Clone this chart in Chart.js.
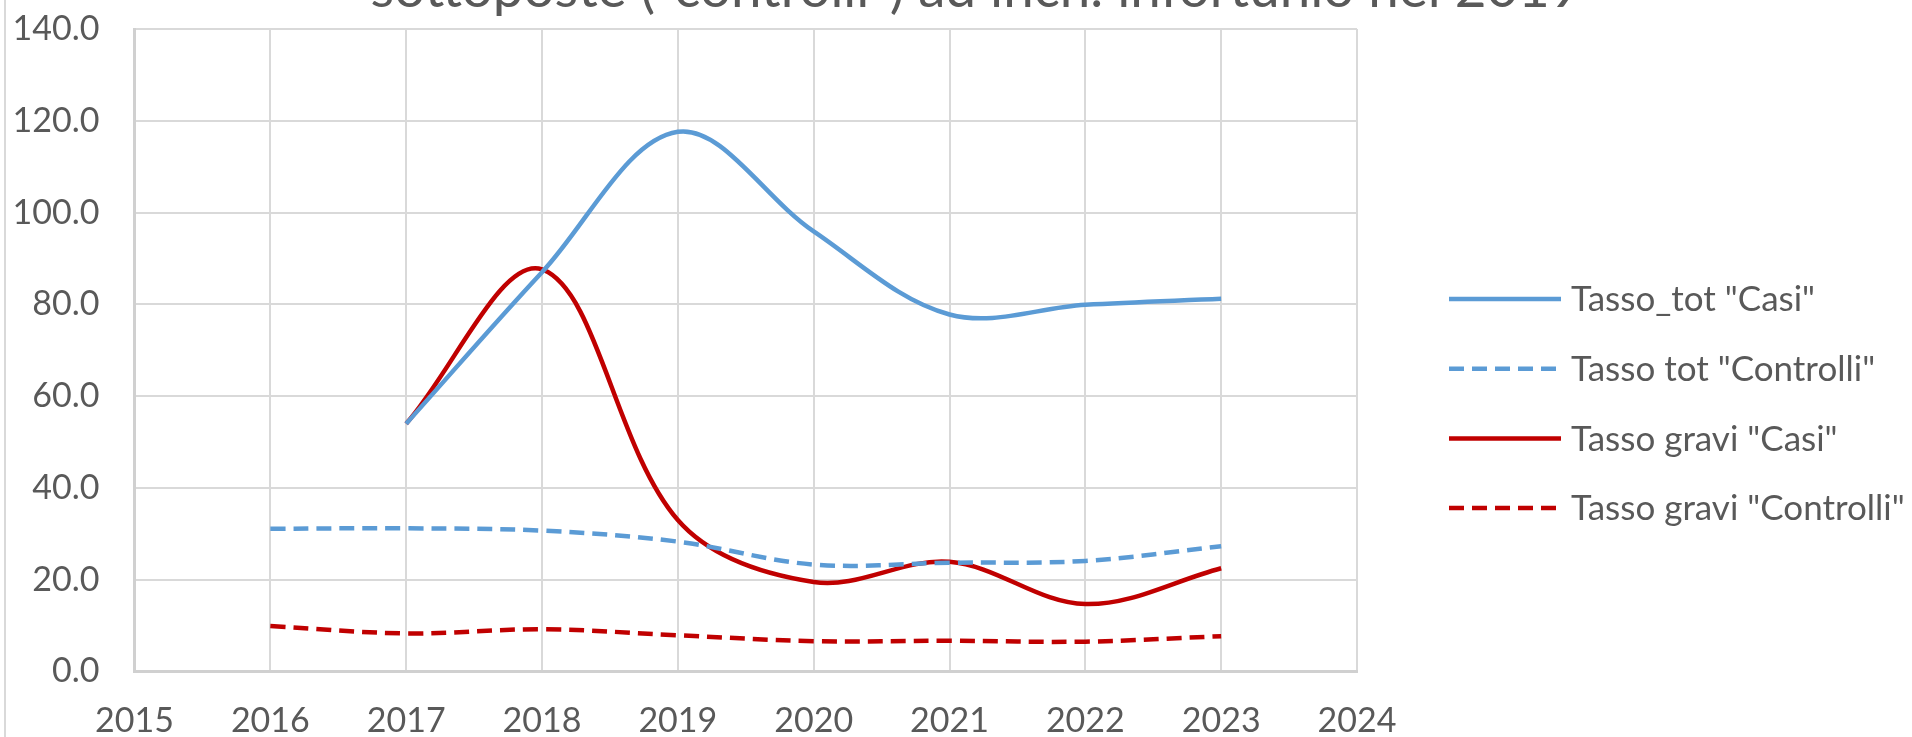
<!DOCTYPE html>
<html>
<head>
<meta charset="utf-8">
<script src="https://cdn.jsdelivr.net/npm/chart.js@4.4.1/dist/chart.umd.min.js"></script>
<style>
  html, body { margin: 0; padding: 0; background: #ffffff; overflow: hidden; }
  #wrap { position: relative; width: 1912px; height: 737px; overflow: hidden; }
  #edge { position: absolute; left: 4px; top: 0; width: 2px; height: 737px; background: #d9d9d9; }
  #title { position: absolute; left: 20px; width: 1912px; top: -41.5px; text-align: center;
           font-family: Lato, "Open Sans", sans-serif; font-size: 54.7px; line-height: 54.7px; color: #595959; white-space: nowrap; }
  canvas { position: absolute; left: 0; top: 0; }
</style>
</head>
<body>
<div id="wrap">
  <div id="edge"></div>
  <canvas id="c" width="1912" height="737"></canvas>
  <div id="title">sottoposte ("controlli") ad inch. infortunio nel 2019</div>
</div>
<script>
const years = [2016, 2017, 2018, 2019, 2020, 2021, 2022, 2023];
const seriesNames = ['Tasso_tot "Casi"', 'Tasso tot "Controlli"', 'Tasso gravi "Casi"', 'Tasso gravi "Controlli"'];
const tassoTotCasi = [null, 54.0, 87.0, 117.6, 95.9, 77.8, 79.9, 81.2];
const tassoTotControlli = [31.1, 31.2, 30.7, 28.3, 23.3, 23.7, 24.1, 27.3];
const tassoGraviCasi = [null, 54.0, 87.6, 33.0, 19.5, 23.9, 14.7, 22.5];
const tassoGraviControlli = [9.9, 8.3, 9.2, 7.9, 6.6, 6.7, 6.5, 7.7];
const xTicks = [2015, 2016, 2017, 2018, 2019, 2020, 2021, 2022, 2023, 2024];
const yTicks = [0, 20, 40, 60, 80, 100, 120, 140];

const BLUE = '#5B9BD5';
const RED = '#C00000';
const FONT = 'Lato, "Open Sans", sans-serif';

function pts(vals) {
  const out = [];
  vals.forEach((v, i) => { if (v !== null) out.push({ x: years[i], y: v }); });
  return out;
}

const styles = [
  { color: BLUE, dash: [] },
  { color: BLUE, dash: [15, 8] },
  { color: RED, dash: [] },
  { color: RED, dash: [15, 8] }
];
const allSeries = [tassoTotCasi, tassoTotControlli, tassoGraviCasi, tassoGraviControlli];

const datasets = allSeries.map((vals, i) => ({
  label: seriesNames[i],
  data: pts(vals),
  showLine: true,
  borderColor: styles[i].color,
  backgroundColor: styles[i].color,
  borderDash: styles[i].dash,
  borderWidth: 4.5,
  pointRadius: 0,
  pointHoverRadius: 0,
  tension: 0.35,
  fill: false,
  clip: false
}));

const customLegend = {
  id: 'customLegend',
  afterDraw(chart, args, opts) {
    const ctx = chart.ctx;
    ctx.save();
    chart.data.datasets.forEach((ds, i) => {
      const y = opts.top + i * opts.spacing;
      ctx.beginPath();
      ctx.setLineDash(ds.borderDash || []);
      ctx.lineWidth = ds.borderWidth;
      ctx.strokeStyle = ds.borderColor;
      ctx.lineCap = 'butt';
      ctx.moveTo(opts.x0, y);
      ctx.lineTo(opts.x1, y);
      ctx.stroke();
      ctx.setLineDash([]);
      ctx.fillStyle = '#595959';
      ctx.font = opts.font;
      ctx.textBaseline = 'middle';
      ctx.textAlign = 'left';
      ctx.fillText(ds.label, opts.textX, y + 1);
    });
    ctx.restore();
  }
};

new Chart(document.getElementById('c'), {
  type: 'scatter',
  data: { datasets },
  plugins: [customLegend],
  options: {
    responsive: false,
    animation: false,
    events: [],
    layout: { padding: { left: 0, right: 555, top: 29, bottom: 0 } },
    plugins: {
      legend: { display: false },
      tooltip: { enabled: false },
      customLegend: { top: 299, spacing: 69.7, x0: 1449, x1: 1561, textX: 1571, font: '35px ' + FONT }
    },
    scales: {
      x: {
        type: 'linear',
        min: 2015, max: 2024,
        afterFit(s) { s.height = 65.5; s.paddingLeft = 0; s.paddingRight = 0; },
        afterBuildTicks(s) { s.ticks = xTicks.map(v => ({ value: v })); },
        ticks: {
          padding: 29,
          color: '#595959',
          font: { family: FONT, size: 34 },
          callback: v => String(v),
          maxRotation: 0, autoSkip: false
        },
        grid: { color: '#d9d9d9', lineWidth: 2, drawTicks: false },
        border: { color: '#d0d0d0', width: 3 }
      },
      y: {
        min: 0, max: 140,
        afterFit(s) { s.width = 134.5; s.paddingTop = 0; s.paddingBottom = 0; },
        afterBuildTicks(s) { s.ticks = yTicks.map(v => ({ value: v })); },
        ticks: {
          padding: 35,
          color: '#595959',
          font: { family: FONT, size: 34 },
          callback: v => Number(v).toFixed(1)
        },
        grid: { color: '#d9d9d9', lineWidth: 2, drawTicks: false },
        border: { color: '#d0d0d0', width: 3 }
      }
    }
  }
});
</script>
</body>
</html>
